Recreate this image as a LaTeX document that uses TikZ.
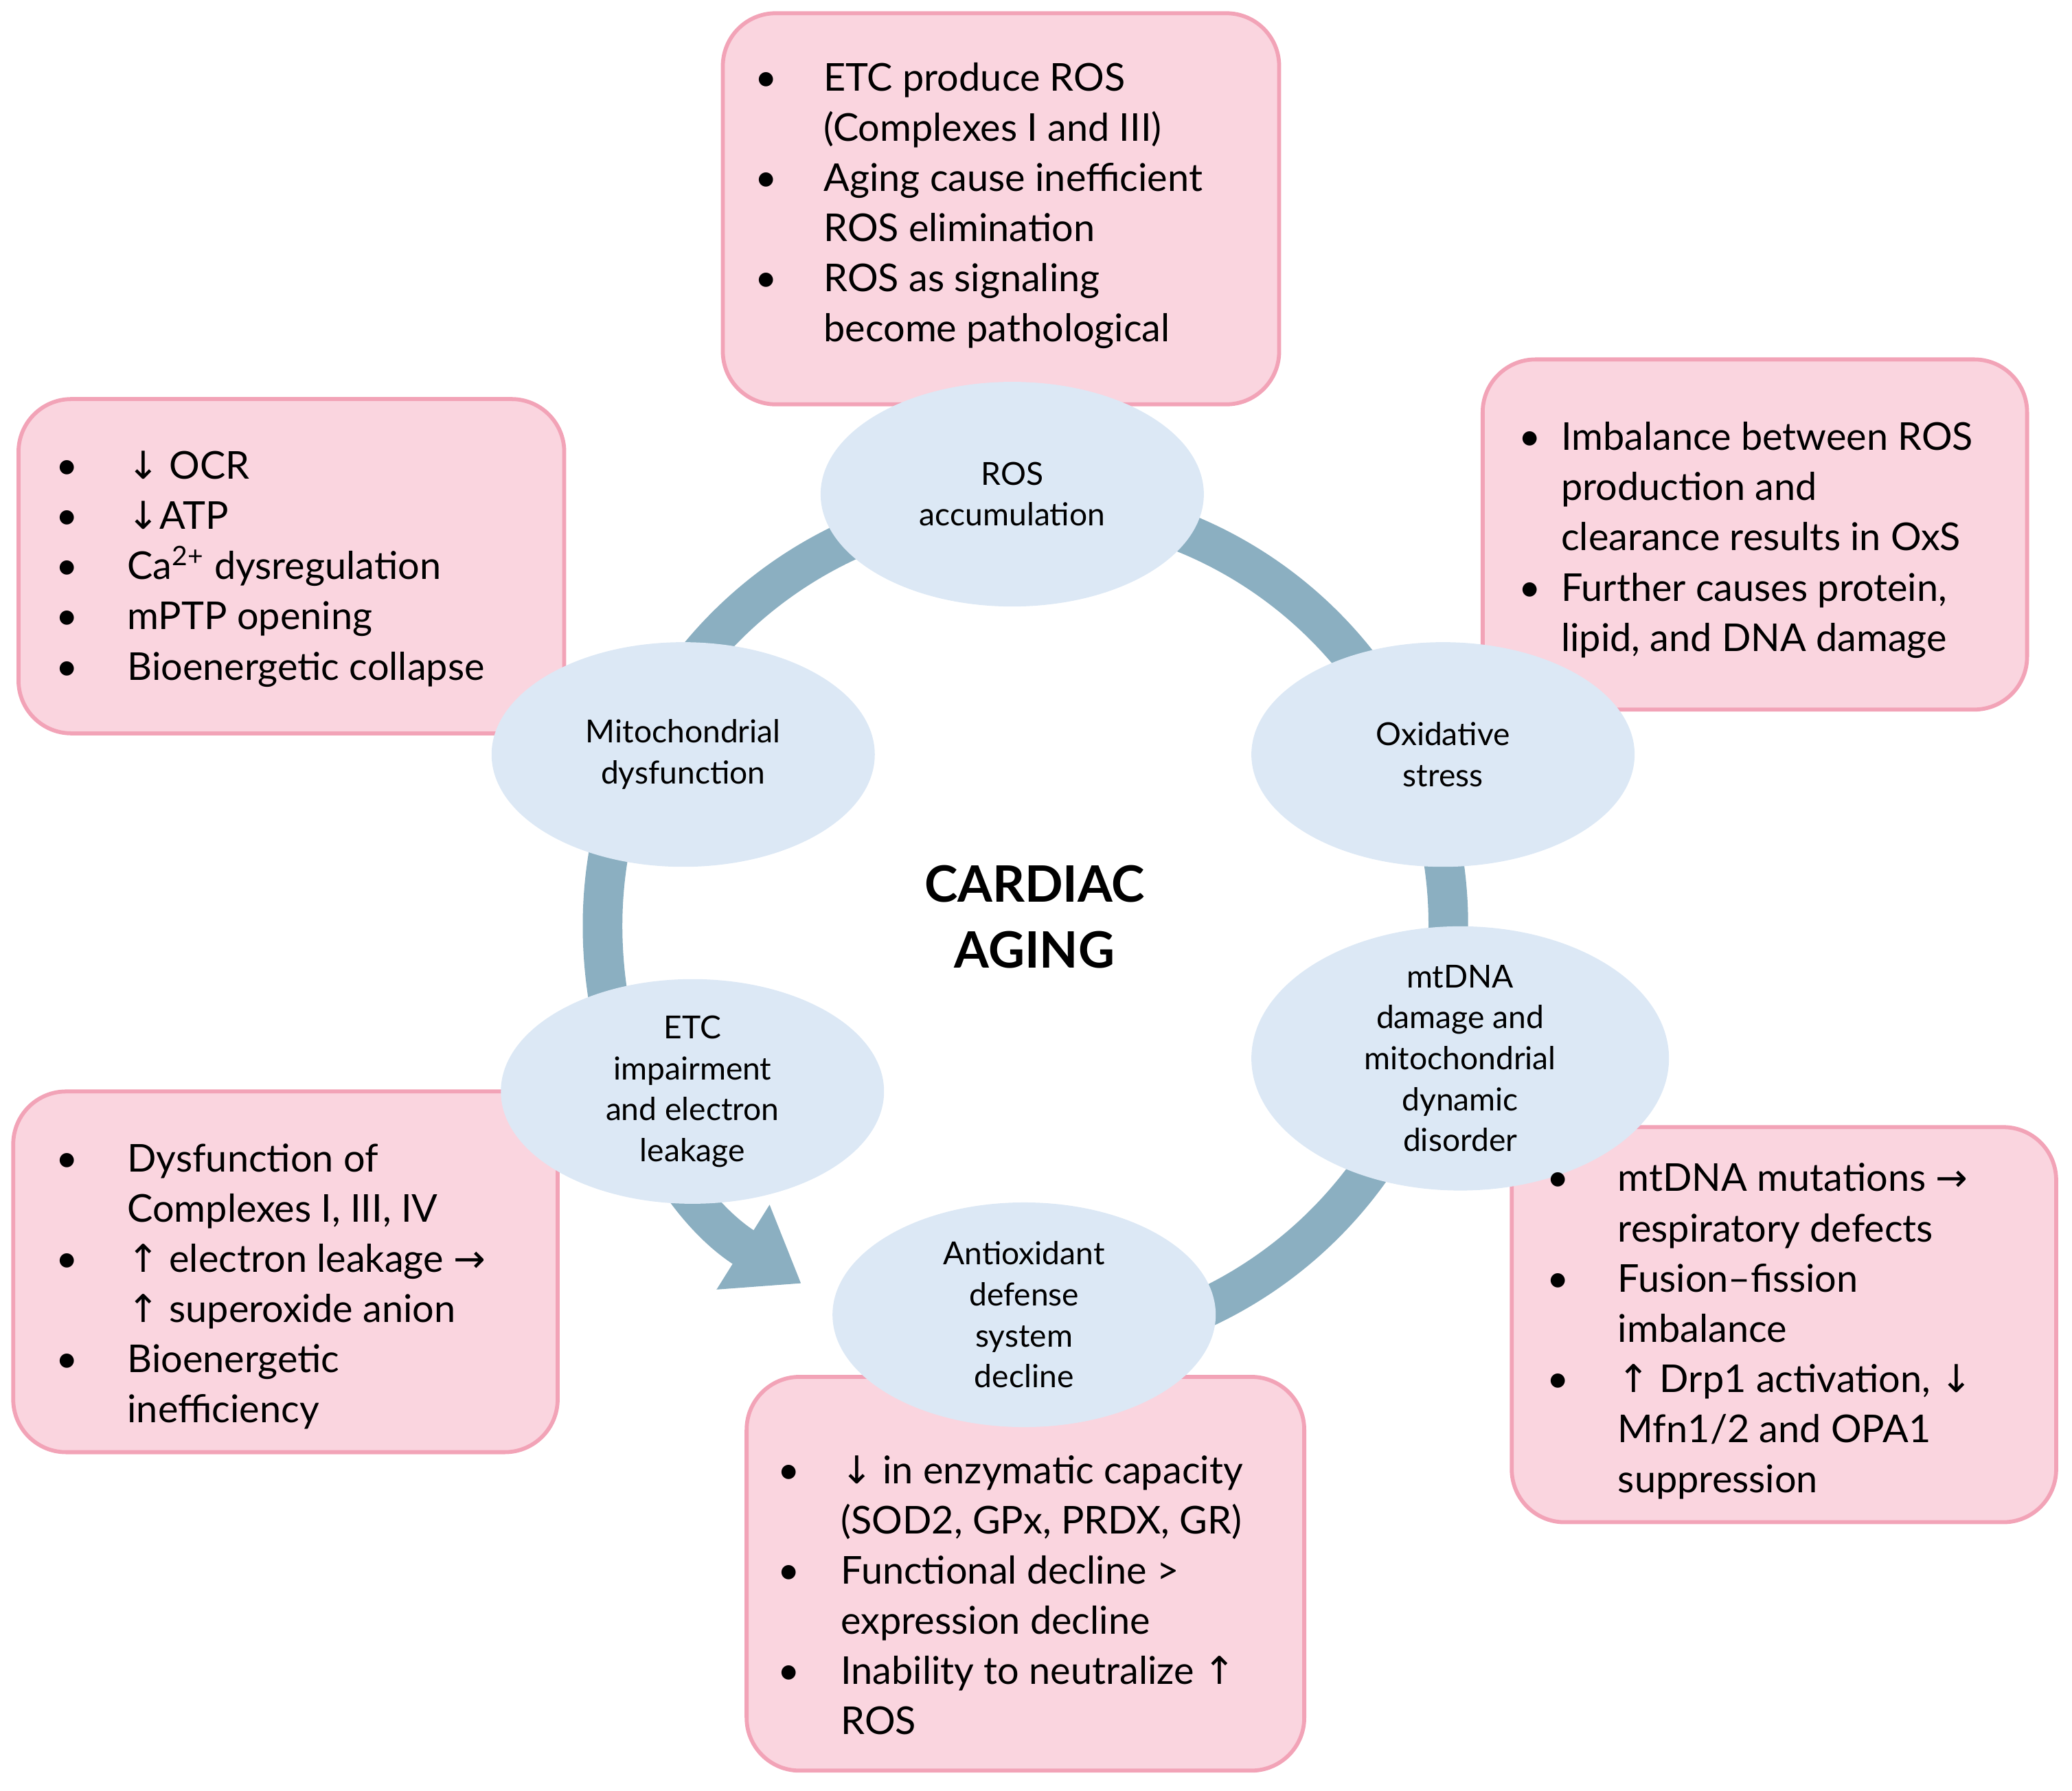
\documentclass[tikz,border=0pt]{standalone}
\usepackage{fontspec}
\setmainfont{Lato}
\newfontfamily\arr{DejaVu Sans}
\usetikzlibrary{arrows.meta}
\newcommand{\dn}{{\arr ↓}}
\newcommand{\up}{{\arr ↑}}
\newcommand{\ri}{{\arr →}}
\newlength{\ind}
\newcommand{\B}[1]{\makebox[\ind][l]{\textbullet}#1\\}
\newcommand{\C}[1]{\hspace*{\ind}#1\\}
\definecolor{boxfill}{HTML}{FAD5DF}
\definecolor{boxdraw}{HTML}{F2A3B7}
\definecolor{ell}{HTML}{DCE8F5}
\definecolor{ring}{HTML}{8BAFC1}
\tikzset{
 box/.style={draw=boxdraw,fill=boxfill,line width=1.5pt,rounded corners=20pt},
 txt/.style={anchor=north west,inner sep=0pt,align=left,font=\fontsize{14.5}{19}\selectfont},
 el/.style={ellipse,fill=ell,minimum width=145pt,minimum height=85pt,align=center,font=\fontsize{12}{15.5}\selectfont,inner sep=0pt},
}
\usetikzlibrary{shapes.geometric}
\begin{document}
\begin{tikzpicture}[x=0.5pt,y=-0.5pt]
\useasboundingbox (0,0) rectangle (1568,1355);
% ring
\draw[ring,line width=15pt,-{Triangle[width=36pt,length=26pt]}] (776,700) ++(95:320) arc[start angle=95,end angle=-238,radius=320];
% boxes
\draw[box] (547,10) rectangle (968,306);
\draw[box] (1122,272) rectangle (1534,537);
\draw[box] (14,302) rectangle (427,555);
\draw[box] (10,826) rectangle (422,1099);
\draw[box] (565,1042) rectangle (987,1340);
\draw[box] (1144,853) rectangle (1556,1152);
% ellipses
\node[el] (ros) at (766,374) {ROS\\accumulation};
\node[el] (ox) at (1092,571) {Oxidative\\stress};
\node[el,minimum width=158pt] (mt) at (1105,801) {mtDNA\\damage and\\mitochondrial\\dynamic\\disorder};
\node[el] (an) at (775,995) {Antioxidant\\defense\\system\\decline};
\node[el] (etc) at (524,826) {ETC\\impairment\\and electron\\leakage};
\node[el] (mi) at (517,571) {Mitochondrial\\dysfunction};
\node[align=center,font=\fontsize{19}{25}\selectfont\bfseries] (title) at (783,694) {CARDIAC\\AGING};
% texts
\setlength{\ind}{26pt}
\node[txt] (t1) at (571,47) {\B{ETC produce ROS}\C{(Complexes I and III)}\B{Aging cause inefficient}\C{ROS elimination}\B{ROS as signaling}\C{become pathological}};
\setlength{\ind}{16pt}
\node[txt] (t2) at (1149,319) {\B{Imbalance between ROS}\C{production and}\C{clearance results in OxS}\B{Further causes protein,}\C{lipid, and DNA damage}};
\setlength{\ind}{27pt}
\node[txt] (t3) at (42,341) {\B{\dn\ OCR}\B{\dn ATP}\B{Ca\textsuperscript{2+} dysregulation}\B{mPTP opening}\B{Bioenergetic collapse}};
\node[txt] (t4) at (42,865) {\B{Dysfunction of}\C{Complexes I, III, IV}\B{\up\ electron leakage \ri}\C{\up\ superoxide anion}\B{Bioenergetic}\C{inefficiency}};
\setlength{\ind}{24pt}
\node[txt] (t5) at (588,1101) {\B{\dn\ in enzymatic capacity}\C{(SOD2, GPx, PRDX, GR)}\B{Functional decline >}\C{expression decline}\B{Inability to neutralize \up}\C{ROS}};
\setlength{\ind}{27pt}
\node[txt] (t6) at (1170,880) {\B{mtDNA mutations \ri}\C{respiratory defects}\B{Fusion–fission}\C{imbalance}\B{\up\ Drp1 activation, \dn}\C{Mfn1/2 and OPA1}\C{suppression}};
\end{tikzpicture}
\end{document}
